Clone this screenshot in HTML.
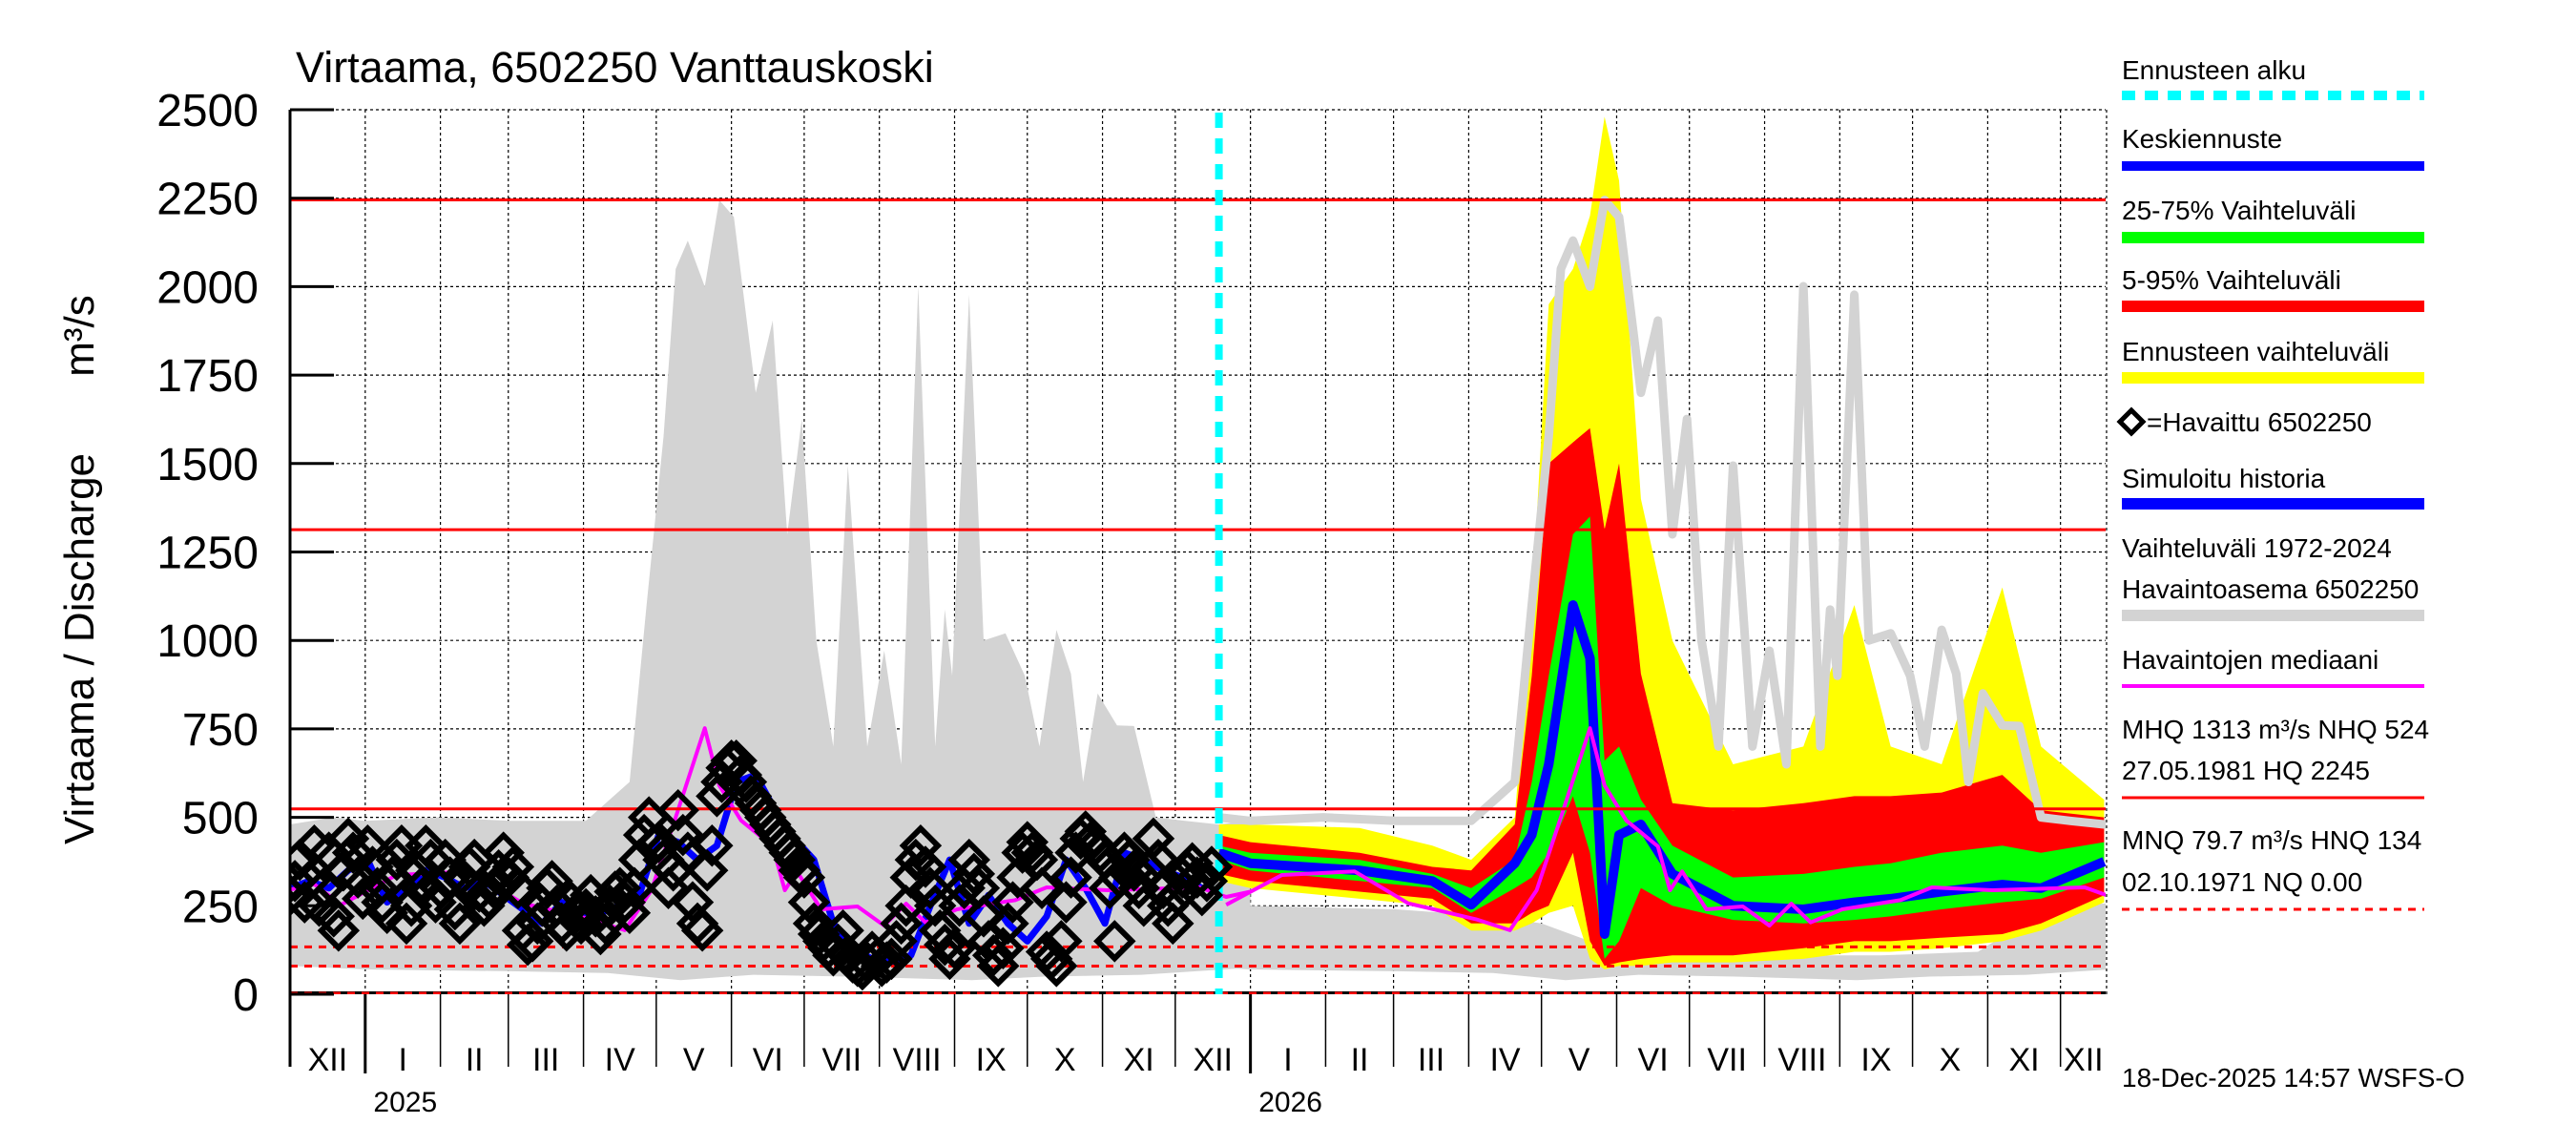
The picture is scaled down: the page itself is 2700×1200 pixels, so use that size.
<!DOCTYPE html>
<html><head><meta charset="utf-8"><style>
html,body{margin:0;padding:0;background:#fff;}
svg{display:block;font-family:"Liberation Sans",Arial,sans-serif;}
</style></head><body>
<svg id="chart" width="2700" height="1200" viewBox="0 0 2700 1200" xmlns="http://www.w3.org/2000/svg">
<defs><clipPath id="plotclip"><rect x="304" y="115" width="1903" height="927"/></clipPath></defs>
<rect width="2700" height="1200" fill="#fff"/>
<text x="310" y="86" font-size="45">Virtaama, 6502250 Vanttauskoski</text>
<g id="grid"></g>
<g id="marks" clip-path="url(#plotclip)"></g>
<g id="axes"></g>
<text transform="translate(98,680) rotate(-90)" text-anchor="middle" font-size="44">Virtaama / Discharge</text>
<text transform="translate(98,352) rotate(-90)" text-anchor="middle" font-size="44">m³/s</text>
<g id="legend" font-size="28">
  <text x="2224" y="83">Ennusteen alku</text>
  <line x1="2224" y1="100" x2="2541" y2="100" stroke="#00ffff" stroke-width="10" stroke-dasharray="14,10"/>
  <text x="2224" y="155">Keskiennuste</text>
  <line x1="2224" y1="174" x2="2541" y2="174" stroke="#0000ff" stroke-width="10"/>
  <text x="2224" y="230">25-75% Vaihteluväli</text>
  <line x1="2224" y1="249" x2="2541" y2="249" stroke="#00ff00" stroke-width="12"/>
  <text x="2224" y="303">5-95% Vaihteluväli</text>
  <line x1="2224" y1="321" x2="2541" y2="321" stroke="#ff0000" stroke-width="12"/>
  <text x="2224" y="378">Ennusteen vaihteluväli</text>
  <line x1="2224" y1="396" x2="2541" y2="396" stroke="#ffff00" stroke-width="12"/>
  <path d="M2234,430 L2246,442 L2234,454 L2222,442 Z" fill="none" stroke="#000" stroke-width="5"/>
  <text x="2250" y="452">=Havaittu 6502250</text>
  <text x="2224" y="511">Simuloitu historia</text>
  <line x1="2224" y1="528" x2="2541" y2="528" stroke="#0000ff" stroke-width="12"/>
  <text x="2224" y="584">Vaihteluväli 1972-2024</text>
  <text x="2224" y="627">Havaintoasema 6502250</text>
  <line x1="2224" y1="645" x2="2541" y2="645" stroke="#d3d3d3" stroke-width="12"/>
  <text x="2224" y="701">Havaintojen mediaani</text>
  <line x1="2224" y1="719" x2="2541" y2="719" stroke="#ff00ff" stroke-width="4"/>
  <text x="2224" y="774">MHQ 1313 m³/s NHQ  524</text>
  <text x="2224" y="817">27.05.1981 HQ 2245</text>
  <line x1="2224" y1="836" x2="2541" y2="836" stroke="#ff0000" stroke-width="3"/>
  <text x="2224" y="890">MNQ 79.7 m³/s HNQ  134</text>
  <text x="2224" y="934">02.10.1971 NQ 0.00</text>
  <line x1="2224" y1="953" x2="2541" y2="953" stroke="#ff0000" stroke-width="3" stroke-dasharray="8,7"/>
</g>
<text x="2224" y="1139" font-size="28">18-Dec-2025 14:57 WSFS-O</text>
</svg>
<script>
// ---- data ----
const yTicks = [0,250,500,750,1000,1250,1500,1750,2000,2250,2500];
const monthStarts = [0,31,62,90,121,151,182,212,243,274,304,335,365,396,427,455,486,516,547,577,608,639,669,700,730,749];
const monthLabels = ["XII","I","II","III","IV","V","VI","VII","VIII","IX","X","XI","XII","I","II","III","IV","V","VI","VII","VIII","IX","X","XI","XII"];
const yearLabels = ["2025","2026"];
const yearStartDays = [31,396];
const refLevels = [2245,1313,524];
const dashedLevels = [134,79.7,0];
const forecastStartDay = 383;
// historical envelope by day-of-year
const histDoy = [-31,-13,0,30,60,91,109,116,123,128,133,140,146,152,161,168,174,180,186,193,199,207,214,221,228,235,239,242,249,255,264,272,278,285,291,296,302,310,317,326,338,352,365];
const histMax = [480,500,490,500,490,490,600,1100,1577,2050,2130,2000,2245,2197,1700,1904,1300,1626,1000,700,1494,700,971,650,2001,700,1087,900,1977,1000,1020,900,700,1030,906,600,850,760,758,500,490,480,490];
const histMinDoy = [-31,0,60,100,130,160,200,250,280,320,365];
const histMin = [80,70,65,60,40,55,50,40,50,55,75];
const histLowDoy = [-31,0,60,100,120,140,160,200,260,300,330,365];
const histLow = [260,250,240,220,200,150,120,110,110,120,250,260];
// median of observations by day-of-year
const medDoy = [-32,-21,-10,13,43,65,93,107,118,128,140,146,155,168,173,178,188,203,214,223,231,244,268,281,306,344,355,365];
const medVals = [294,311,253,337,347,257,212,181,294,500,752,590,491,418,294,347,240,248,194,256,203,240,266,302,294,302,275,290];
// forecast bands by day-of-year 2026
const fDoy = [-13,0,45,75,91,109,116,123,133,140,146,152,161,174,199,228,249,264,285,310,326,352];
const fYMax = [480,480,470,420,380,500,1100,1950,2050,2200,2480,2300,1400,1000,650,700,1100,700,650,1150,700,550];
const fRMax = [450,430,400,360,350,480,900,1500,1560,1600,1313,1500,906,540,520,540,560,560,570,620,520,500];
const fGMax = [420,400,380,340,300,380,600,900,1300,1350,660,700,550,420,330,340,360,370,400,420,400,430];
const fMed  = [400,370,350,320,253,370,450,650,1100,950,170,450,480,340,250,240,260,270,290,310,300,375];
const fGMin = [380,350,320,300,230,300,330,400,560,400,100,150,300,250,210,200,210,220,240,260,270,330];
const fRMin = [340,320,290,270,200,200,230,250,400,150,80,90,100,110,110,130,150,150,160,170,200,280];
const fYMin = [320,300,270,250,180,180,200,230,250,100,70,80,80,90,90,100,120,120,130,150,180,260];
// observations every 4 days from 1 Dec 2024
const obsVals = [280,380,320,250,400,180,440,330,420,300,230,380,200,350,420,260,380,240,320,380,250,300,400,360,180,150,250,320,200,260,200,280,170,250,300,230,380,500,430,300,520,400,200,350,560,640,660,600,540,500,460,420,380,330,200,150,110,180,90,70,120,80,100,200,330,420,300,180,100,250,380,300,150,80,200,330,430,380,120,80,260,400,460,420,380,150,400,350,250,440,300,200,330,370,280,360];
// observations every 4 days from 3 Dec 2024
const obsValsB = [320,260,420,300,220,350,400,270,360,260,330,420,250,300,380,300,330,200,360,290,270,350,330,300,140,200,300,250,180,230,240,220,200,290,260,300,450,420,380,350,450,260,180,420,600,660,620,560,520,480,440,400,350,260,170,130,140,110,80,90,100,90,150,250,380,360,250,140,130,300,340,220,110,130,260,400,400,300,100,150,330,440,430,400,300,330,380,300,350,380,250,280,350,330,320];
// simulated history every 8 days
const simVals = [300,320,300,350,380,260,300,350,330,300,320,280,240,200,260,230,230,250,280,450,430,380,420,600,620,520,440,380,200,130,100,90,110,250,380,200,280,200,150,220,380,300,200,400,380,350,330,300];

// ---- scales ----
const X0 = 304, PX = 2.542, Y0 = 1042, PY = 927/2500;
const xs = d => X0 + d*PX;
const ys = v => Y0 - v*PY;
const NS = "http://www.w3.org/2000/svg";
function mk(tag, attrs, parent){ const e=document.createElementNS(NS,tag); for(const k in attrs) e.setAttribute(k,attrs[k]); parent.appendChild(e); return e; }
const grid=document.getElementById('grid'), marks=document.getElementById('marks'), axes=document.getElementById('axes');
function pts(days, vals, off){ return days.map((d,i)=>xs(d+off).toFixed(1)+','+ys(vals[i]).toFixed(1)); }
function band(days, hi, lo, off, color, name){
  const p = pts(days,hi,off).concat(pts(days,lo,off).reverse());
  const e = mk('polygon',{points:p.join(' '),fill:color},marks);
  
  
}
function bandTwo(d1,hi,d2,lo,off,color,name){
  const p = pts(d1,hi,off).concat(pts(d2,lo,off).reverse());
  const e = mk('polygon',{points:p.join(' '),fill:color},marks);
  
  
}
function line(days, vals, off, color, w, name){
  const e = mk('polyline',{points:pts(days,vals,off).join(' '),fill:'none',stroke:color,'stroke-width':w,'stroke-linejoin':'round'},marks);
  
  
}

// grid
yTicks.forEach(v=>{ if(v===0) return;
  const g = mk('line',{x1:X0,x2:2207,y1:ys(v),y2:ys(v),stroke:'#000','stroke-width':1.2,'stroke-dasharray':'3,3'},grid);
  
  
});
monthStarts.forEach((d,i)=>{ if(i===0) return;
  const g = mk('line',{x1:xs(d),x2:xs(d),y1:115,y2:Y0,stroke:'#000','stroke-width':1.2,'stroke-dasharray':'3,3'},grid);
  
  
});

bandTwo(histDoy,histMax,histMinDoy,histMin,31,'#d3d3d3','historical-range-2025');
bandTwo(histLowDoy,histLow,histMinDoy,histMin,396,'#d3d3d3','historical-low-2026');
band(fDoy,fYMax,fYMin,396,'#ffff00','forecast-range-band');
band(fDoy,fRMax,fRMin,396,'#ff0000','forecast-5-95-band');
band(fDoy,fGMax,fGMin,396,'#00ff00','forecast-25-75-band');
line(histDoy.filter(d=>d>=-13),histMax.slice(histDoy.indexOf(-13)),396,'#d3d3d3',9,'historical-max-2026');
line(simVals.map((v,i)=>i*8),simVals,0,'#0000ff',7,'simulated-history');
line(fDoy,fMed,396,'#0000ff',10,'mean-forecast');
line(medDoy,medVals,31,'#ff00ff',4,'median-2025');
line(medDoy.filter(d=>d>=-13),medVals.slice(medDoy.findIndex(d=>d>=-13)),396,'#ff00ff',4,'median-2026');

refLevels.forEach(v=>{
  const e = mk('line',{x1:X0,x2:2207,y1:ys(v),y2:ys(v),stroke:'#ff0000','stroke-width':3},marks);
  
  
});
dashedLevels.forEach(v=>{
  const off = v===0 ? 1 : 0;
  if(v===0){ const b = mk('line',{x1:X0,x2:2207,y1:ys(v)-1,y2:ys(v)-1,stroke:'#000','stroke-width':4},marks);
    
     }
  const e = mk('line',{x1:X0,x2:2207,y1:ys(v)-off,y2:ys(v)-off,stroke:'#ff0000','stroke-width':3,'stroke-dasharray':'8,7'},marks);
  
  
});
const fsl = mk('line',{x1:xs(forecastStartDay),x2:xs(forecastStartDay),y1:118,y2:Y0,stroke:'#00ffff','stroke-width':8,'stroke-dasharray':'16,11'},marks);


function diamond(d, v){
  const cx = xs(d), cy = ys(v);
  const e = mk('path',{d:'M'+cx+','+(cy-18)+' L'+(cx+18)+','+cy+' L'+cx+','+(cy+18)+' L'+(cx-18)+','+cy+' Z',fill:'none',stroke:'#000','stroke-width':6},marks);
  
  
}
obsVals.forEach((v,i)=>diamond(i*4, v));
obsValsB.forEach((v,i)=>diamond(2+i*4, v));

const ax = mk('line',{x1:X0,x2:X0,y1:115,y2:1118,stroke:'#000','stroke-width':3},axes);


yTicks.forEach(v=>{
  const t = mk('line',{x1:X0,x2:350,y1:ys(v),y2:ys(v),stroke:'#000','stroke-width':3},axes);
  
  
  const l = mk('text',{x:271,y:ys(v)+17,'text-anchor':'end','font-size':48},axes);
  l.textContent = v;
  
  
});
monthStarts.forEach((d,i)=>{
  const isYear = yearStartDays.includes(d);
  if(i < monthStarts.length-1){
    const t = mk('line',{x1:xs(d),x2:xs(d),y1:Y0,y2:isYear?1125:1118,stroke:'#000','stroke-width':isYear?3:1.5},axes);
    
    
    const l = mk('text',{x:(xs(d)+xs(monthStarts[i+1]))/2,y:1122,'text-anchor':'middle','font-size':34},axes);
    l.textContent = monthLabels[i];
    
    
  }
});
yearLabels.forEach((y,i)=>{
  const l = mk('text',{x:xs(yearStartDays[i])+42,y:1165,'text-anchor':'middle','font-size':30},axes);
  l.textContent = y;
  
  
});
</script>
</body></html>
